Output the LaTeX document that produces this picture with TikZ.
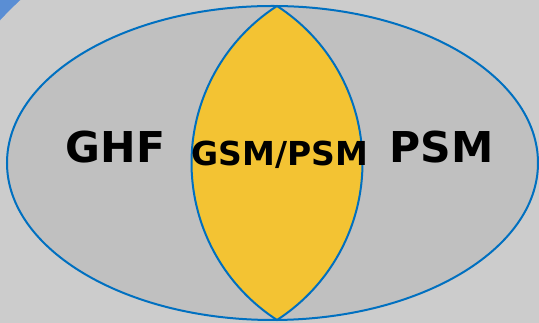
\documentclass[tikz,border=0pt]{standalone}
\usepackage{fontspec}
\setsansfont{DejaVu Sans}
\definecolor{slideblue}{HTML}{5A8ED4}
\definecolor{slidegray}{HTML}{CCCCCC}
\definecolor{setgray}{HTML}{C0C0C0}
\definecolor{setline}{HTML}{0070C0}
\definecolor{lensyellow}{HTML}{F3C333}

\begin{document}
\begin{tikzpicture}[x=1pt,y=1pt,
                    set line/.style={draw=setline,line width=2pt},
                    big label/.style={font=\sffamily\bfseries\fontsize{42.5}{50}\selectfont},
                    small label/.style={font=\sffamily\bfseries\fontsize{33}{40}\selectfont}]
  \useasboundingbox (0,0) rectangle (539,323);
  % background
  \fill[slideblue] (0,0) rectangle (539,323);
  \begin{scope}
    \clip (0,0) rectangle (539,323);
    \fill[slidegray] (300,23) circle (410);
  \end{scope}
  % outer set
  \path[set line,fill=setgray] (272.5,160) ellipse [x radius=265.5,y radius=157];
  % overlap
  \path[set line,fill=lensyellow] (277,317)
    arc [start angle=122.86,end angle=237.14,radius=186.9]
    arc [start angle=-57.14,end angle=57.14,radius=186.9] -- cycle;

  \node[big label] (ghf) at (115.5,175.5) {GHF};
  \node[big label] (psm) at (441.5,175.5) {PSM};
  \node[small label] (gsmpsm) at (280,168.5) {GSM/PSM};
\end{tikzpicture}
\end{document}
